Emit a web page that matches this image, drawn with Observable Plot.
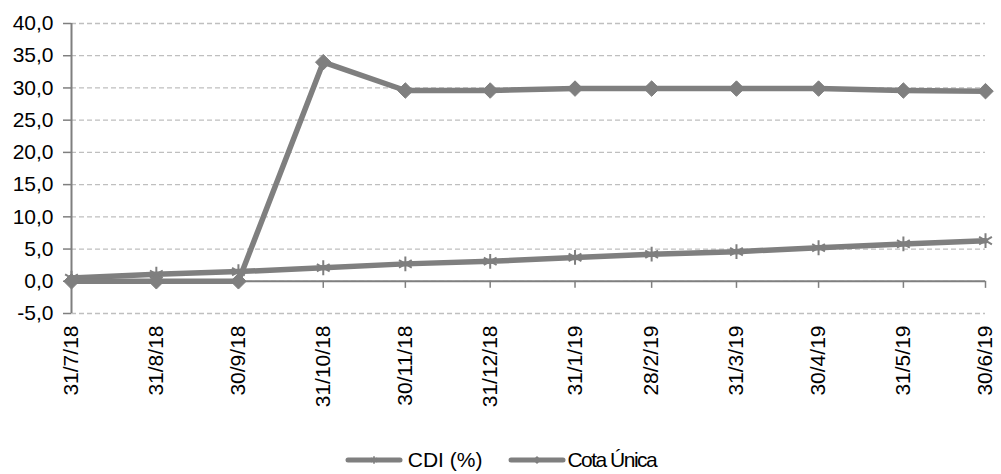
<!DOCTYPE html>
<html>
<head>
<meta charset="utf-8">
<script src="https://cdn.jsdelivr.net/npm/d3@7"></script>
<script src="https://cdn.jsdelivr.net/npm/@observablehq/plot@0.6"></script>
<style>
  html, body { margin: 0; padding: 0; background: #fff; }
  body { width: 1001px; height: 474px; overflow: hidden; font-family: "Liberation Sans", Arial, sans-serif; }
  #legend { height: 32px; display: flex; justify-content: center; align-items: center; font-size: 21px; color: #000; }
  #legend .item { display: flex; align-items: center; white-space: nowrap; }
  #legend svg { display: block; }
</style>
</head>
<body>
<div id="chart"></div>
<div id="legend"></div>
<script>
const dates = ["2018-07-31","2018-08-31","2018-09-30","2018-10-31","2018-11-30","2018-12-31","2019-01-31","2019-02-28","2019-03-31","2019-04-30","2019-05-31","2019-06-30"];
const dateLabels = ["31/7/18","31/8/18","30/9/18","31/10/18","30/11/18","31/12/18","31/1/19","28/2/19","31/3/19","30/4/19","31/5/19","30/6/19"];
const cdi = [0.5, 1.1, 1.5, 2.1, 2.7, 3.1, 3.7, 4.2, 4.6, 5.2, 5.8, 6.3];
const cota = [0.0, 0.0, 0.0, 34.0, 29.6, 29.6, 29.9, 29.9, 29.9, 29.9, 29.6, 29.5];
const yTicks = [-5, 0, 5, 10, 15, 20, 25, 30, 35, 40];
const seriesNames = ["CDI (%)", "Cota Única"];

const parsed = dates.map(d => new Date(d + "T00:00:00Z"));
const labelOf = new Map(parsed.map((d, i) => [+d, dateLabels[i]]));
const cdiData = parsed.map((d, i) => ({date: d, value: cdi[i]}));
const cotaData = parsed.map((d, i) => ({date: d, value: cota[i]}));
const fmt = v => v.toFixed(1).replace(".", ",");
const gray = "#7f7f7f";

const chart = Plot.plot({
  width: 1001,
  height: 444,
  marginLeft: 71,
  marginRight: 16,
  marginTop: 23,
  marginBottom: 131,
  style: {fontFamily: "'Liberation Sans', Arial, sans-serif", fontSize: "21px", color: "#000", background: "#fff"},
  x: {type: "utc", domain: [parsed[0], parsed[parsed.length - 1]], label: null},
  y: {domain: [-5, 40], label: null},
  marks: [
    Plot.gridY(yTicks, {stroke: "#bfbfbf", strokeOpacity: 1, strokeWidth: 1.3, strokeDasharray: "5,3"}),
    Plot.ruleX(parsed, {x: d => d, y1: 0, y2: -1.1, stroke: gray, strokeWidth: 1.5}),
    Plot.ruleY([0], {stroke: gray, strokeWidth: 2}),
    Plot.axisY(yTicks, {tickFormat: fmt, tickSize: 8, tickPadding: 10, stroke: gray, strokeWidth: 1.5, fill: "#000", fontSize: 21, label: null}),
    Plot.ruleX([parsed[0]], {y1: -5, y2: 40, stroke: gray, strokeWidth: 2}),
    Plot.axisX(parsed, {anchor: "bottom", tickFormat: d => labelOf.get(+d), tickRotate: -90, tickSize: 0, tickPadding: 12, fill: "#000", fontSize: 21, label: null}),
    Plot.line(cdiData, {x: "date", y: "value", stroke: gray, strokeWidth: 5.5, strokeLinejoin: "round"}),
    Plot.dot(cdiData, {x: "date", y: "value", symbol: "asterisk", r: 7, stroke: gray, strokeWidth: 2}),
    Plot.line(cotaData, {x: "date", y: "value", stroke: gray, strokeWidth: 5.5, strokeLinejoin: "round"}),
    Plot.dot(cotaData, {x: "date", y: "value", symbol: "diamond2", r: 7, fill: gray, stroke: gray, strokeWidth: 1})
  ]
});
document.getElementById("chart").appendChild(chart);

// legend
const legend = d3.select("#legend");
seriesNames.forEach((name, i) => {
  const item = legend.append("div").attr("class", "item").style("margin-left", i ? "26px" : "0");
  const svg = item.append("svg").attr("width", 58).attr("height", 16);
  svg.append("line").attr("x1", 3).attr("x2", 55).attr("y1", 8).attr("y2", 8)
    .attr("stroke", gray).attr("stroke-width", 5).attr("stroke-linecap", "round");
  if (i === 0) {
    svg.append("path").attr("transform", "translate(29,8)").attr("d", d3.symbol(d3.symbolAsterisk, 40)())
      .attr("stroke", gray).attr("stroke-width", 1.6).attr("fill", "none");
  } else {
    svg.append("path").attr("transform", "translate(29,8)").attr("d", d3.symbol(d3.symbolDiamond2, 40)())
      .attr("fill", gray);
  }
  item.append("span").text(name)
    .style("margin-left", i ? "1px" : "5px")
    .style("letter-spacing", i ? "-1.5px" : "0");
});
</script>
</body>
</html>
